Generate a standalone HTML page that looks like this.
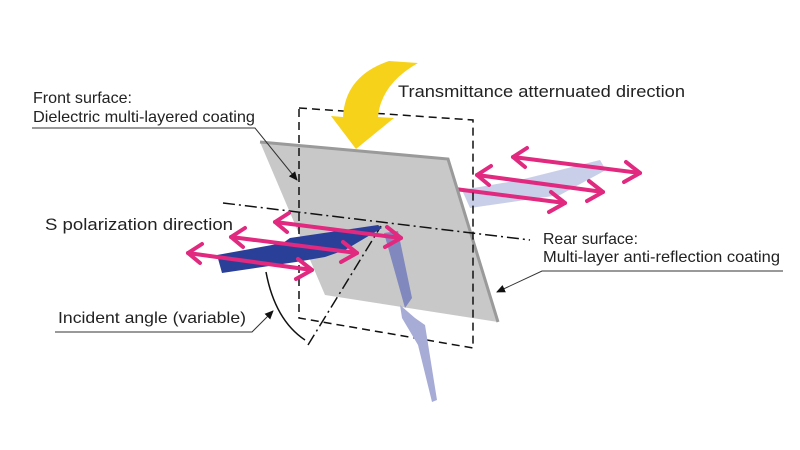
<!DOCTYPE html>
<html><head><meta charset="utf-8"><style>
html,body{margin:0;padding:0;background:#fff;}
svg{display:block;}
text{font-family:"Liberation Sans",sans-serif;font-size:16px;fill:#222;}
</style></head><body>
<svg width="800" height="450" viewBox="0 0 800 450" xmlns="http://www.w3.org/2000/svg">
<defs>
<marker id="ah" markerWidth="9" markerHeight="8" refX="8" refY="4" orient="auto" markerUnits="userSpaceOnUse"><path d="M0,0 L9,4 L0,8 Z" fill="#111"/></marker>
</defs>
<polygon points="462,190 470,208 560,195 606,170 600,160 520,180" fill="#c9cfe8"/>
<g stroke="#e0297f" stroke-width="4" fill="none" stroke-linecap="round" stroke-linejoin="round">
<line x1="513" y1="157" x2="640" y2="173"/>
<polyline points="527,148 513,157 525,167"/>
<polyline points="626,162 640,173 624,182"/>
<line x1="477" y1="175" x2="603" y2="192"/>
<polyline points="491,166 477,175 489,185"/>
<polyline points="589,181 603,192 587,201"/>
<line x1="455" y1="189" x2="565" y2="203"/>
<polyline points="551,192 565,203 549,212"/>
</g>
<polygon points="260,142 448,159 498,322 325,295" fill="#c8c8c8"/>
<polyline points="260,142 448,159 498,322" fill="none" stroke="#9a9a9a" stroke-width="3"/>
<polygon points="299,108 473,120 473,348 299,318" fill="none" stroke="#111" stroke-width="1.5" stroke-dasharray="8,5"/>
<line x1="223" y1="203" x2="530" y2="240" stroke="#111" stroke-width="1.5" stroke-dasharray="12,4,2,4"/>
<line x1="308" y1="345" x2="381" y2="226" stroke="#111" stroke-width="1.5" stroke-dasharray="12,4,2,4"/>
<path d="M266,272 Q275,320 305,340" fill="none" stroke="#111" stroke-width="1.5"/>
<path d="M389,61 Q345,76 343,117 L331,116 L356,149 L394,118 L378,117 Q381,84 418,63 Z" fill="#f7d21a"/>
<polygon points="217,255 283,243 290,238 378,225 382,228 345,250 325,257 296,262 222,273" fill="#2a3f98"/>
<polygon points="384,233 398,231 412,298 405,308" fill="#8088be"/>
<polygon points="400,305 415,318 425,325 437,400 432,402 418,345 402,318" fill="#a6acd6"/>
<g stroke="#e0297f" stroke-width="4" fill="none" stroke-linecap="round" stroke-linejoin="round">
<line x1="188" y1="253" x2="312" y2="270"/>
<polyline points="202,244 188,253 200,263"/>
<polyline points="298,259 312,270 296,279"/>
<line x1="231" y1="237" x2="357" y2="253"/>
<polyline points="245,228 231,237 243,247"/>
<polyline points="343,242 357,253 341,262"/>
<line x1="275" y1="222" x2="401" y2="238"/>
<polyline points="289,213 275,222 287,232"/>
<polyline points="387,227 401,238 385,247"/>
</g>
<polyline points="32,128 255,128 297,180" fill="none" stroke="#333" stroke-width="1" marker-end="url(#ah)"/>
<polyline points="783,271 542,271 497,292" fill="none" stroke="#333" stroke-width="1" marker-end="url(#ah)"/>
<polyline points="55,332 252,332 273,311" fill="none" stroke="#333" stroke-width="1" marker-end="url(#ah)"/>
<text x="33" y="103" textLength="99" lengthAdjust="spacingAndGlyphs">Front surface:</text>
<text x="33" y="122" textLength="222" lengthAdjust="spacingAndGlyphs">Dielectric multi-layered coating</text>
<text x="398" y="97" style="font-size:17px" textLength="287" lengthAdjust="spacingAndGlyphs">Transmittance atternuated direction</text>
<text x="45" y="230" style="font-size:17px" textLength="188" lengthAdjust="spacingAndGlyphs">S polarization direction</text>
<text x="543" y="244" textLength="95" lengthAdjust="spacingAndGlyphs">Rear surface:</text>
<text x="543" y="262" textLength="237" lengthAdjust="spacingAndGlyphs">Multi-layer anti-reflection coating</text>
<text x="58" y="323" textLength="188" lengthAdjust="spacingAndGlyphs">Incident angle (variable)</text>
</svg>
</body></html>
